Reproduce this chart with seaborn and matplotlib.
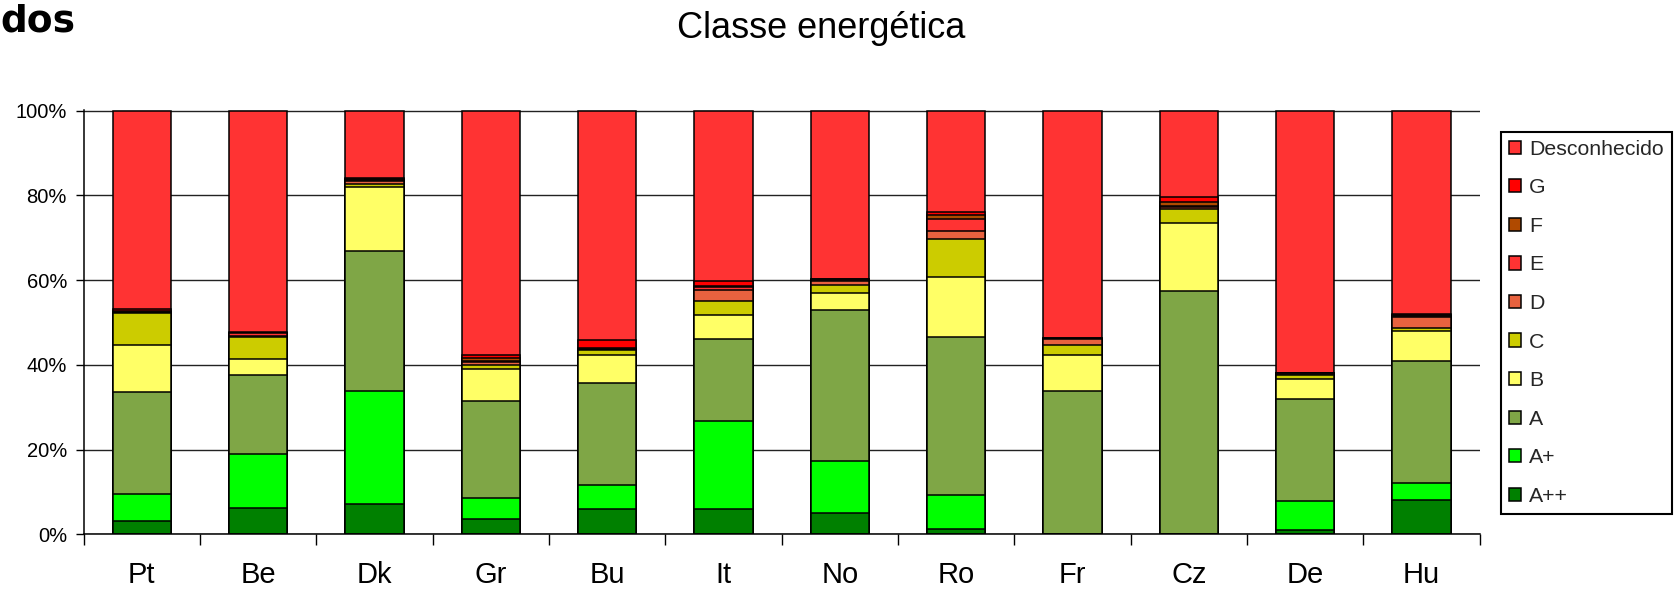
import numpy as np
import matplotlib
matplotlib.use("Agg")
import matplotlib.pyplot as plt
import seaborn as sns
from matplotlib.patches import Patch
from matplotlib.ticker import FixedLocator, FuncFormatter

countries = ["Pt", "Be", "Dk", "Gr", "Bu", "It", "No", "Ro", "Fr", "Cz", "De", "Hu"]

# Share of dwellings per energy class in each country (%)
cls_app = [3.2, 6.1, 7.1, 3.6, 6.0, 6.0, 5.1, 1.3, 0.0, 0.0, 0.9, 8.0]
cls_ap = [6.2, 12.8, 26.8, 4.9, 5.7, 20.7, 12.3, 8.0, 0.0, 0.0, 7.0, 4.2]
cls_a = [24.1, 18.6, 33.0, 23.0, 24.0, 19.4, 35.5, 37.3, 33.9, 57.5, 24.1, 28.7]
cls_b = [11.1, 3.9, 15.0, 7.6, 6.6, 5.7, 4.1, 14.1, 8.4, 16.0, 4.7, 7.0]
cls_c = [7.6, 5.1, 0.8, 0.9, 1.1, 3.3, 1.8, 8.9, 2.4, 3.2, 1.0, 0.8]
cls_d = [0.1, 0.3, 0.6, 0.6, 0.2, 2.6, 1.0, 2.0, 1.4, 0.5, 0.2, 2.6]
cls_e = [0.1, 0.6, 0.3, 0.3, 0.1, 0.6, 0.3, 2.9, 0.1, 0.3, 0.1, 0.3]
cls_f = [0.2, 0.1, 0.3, 0.6, 0.2, 0.2, 0.1, 0.8, 0.1, 0.9, 0.05, 0.2]
cls_g = [0.5, 0.3, 0.3, 0.8, 1.9, 1.2, 0.1, 0.7, 0.1, 1.1, 0.05, 0.2]
cls_unknown = [46.9, 52.2, 15.8, 57.7, 54.2, 40.3, 39.7, 24.0, 53.6, 20.5, 61.9, 48.0]

class_names = ["A++", "A+", "A", "B", "C", "D", "E", "F", "G", "Desconhecido"]
class_colors = ["#008000", "#00FF00", "#7FA646", "#FFFF66", "#CCCC00",
                "#E8623F", "#FF3333", "#B04A00", "#FF0000", "#FF3333"]

sns.set_theme(style="white")
plt.rcParams["font.family"] = ["Liberation Sans", "DejaVu Sans"]

fig = plt.figure(figsize=(16.8, 5.9), dpi=100)
ax = fig.add_axes([83.6 / 1680, 1 - 534.3 / 590, (1479.6 - 83.6) / 1680, (534.3 - 110) / 590])

series = np.array([cls_app, cls_ap, cls_a, cls_b, cls_c, cls_d, cls_e,
                   cls_f, cls_g, cls_unknown], dtype=float)
# normalise to 100% stacked
series = series / series.sum(axis=0) * 100
tops = np.cumsum(series, axis=0)

# draw from the top class downwards so each lower class overlays the one above
for i in range(len(class_names) - 1, -1, -1):
    sns.barplot(x=countries, y=tops[i], color=class_colors[i], saturation=1,
                width=0.50, edgecolor="black", linewidth=1.1, ax=ax, zorder=3)

ax.set_xlim(-0.5, 11.5)
ax.set_ylim(0, 100.15)
ax.set_xlabel("")
ax.set_ylabel("")

ax.yaxis.set_major_locator(FixedLocator([0, 20, 40, 60, 80, 100]))
ax.yaxis.set_major_formatter(FuncFormatter(lambda v, p: f"{v:.0f}%"))
ax.yaxis.grid(True, color="#222222", linewidth=1.0, zorder=0)
ax.set_axisbelow(True)

ax.xaxis.set_minor_locator(FixedLocator(np.arange(-0.5, 12, 1.0)))
ax.tick_params(axis="x", which="major", length=0, pad=19, labelsize=21, colors="black")
ax.tick_params(axis="x", which="minor", length=8, width=1.0, direction="out",
               color="black", bottom=True)
ax.tick_params(axis="y", which="major", length=6, width=1.0, direction="out",
               color="black", left=True, pad=6, labelsize=14.5, labelcolor="black")

for side in ("top", "right"):
    ax.spines[side].set_visible(False)
for side in ("left", "bottom"):
    ax.spines[side].set_color("black")
    ax.spines[side].set_linewidth(1.1)
    ax.spines[side].set_zorder(4)

handles = [Patch(facecolor=class_colors[i], edgecolor="black", linewidth=1.1)
           for i in range(len(class_names) - 1, -1, -1)]
labels = [class_names[i] for i in range(len(class_names) - 1, -1, -1)]
leg = fig.legend(handles, labels, loc="upper left", bbox_to_anchor=(1501 / 1680, 0.7768),
                 frameon=True, fancybox=False, edgecolor="black", framealpha=1,
                 fontsize=15.3, handlelength=0.58, handleheight=0.58,
                 handletextpad=0.35, labelspacing=0.92, borderpad=0.38,
                 borderaxespad=0)
leg.get_frame().set_linewidth(1.5)

fig.text(0.489, 1 - 29 / 590, "Classe energética", ha="center", va="center",
         fontsize=26, color="black")
fig.text(0.0, 1 - 21 / 590, "dos", ha="left", va="center", fontsize=27,
         fontweight="bold", color="black", family=["DejaVu Sans"])

fig.savefig("out.png", dpi=100, facecolor="white")
